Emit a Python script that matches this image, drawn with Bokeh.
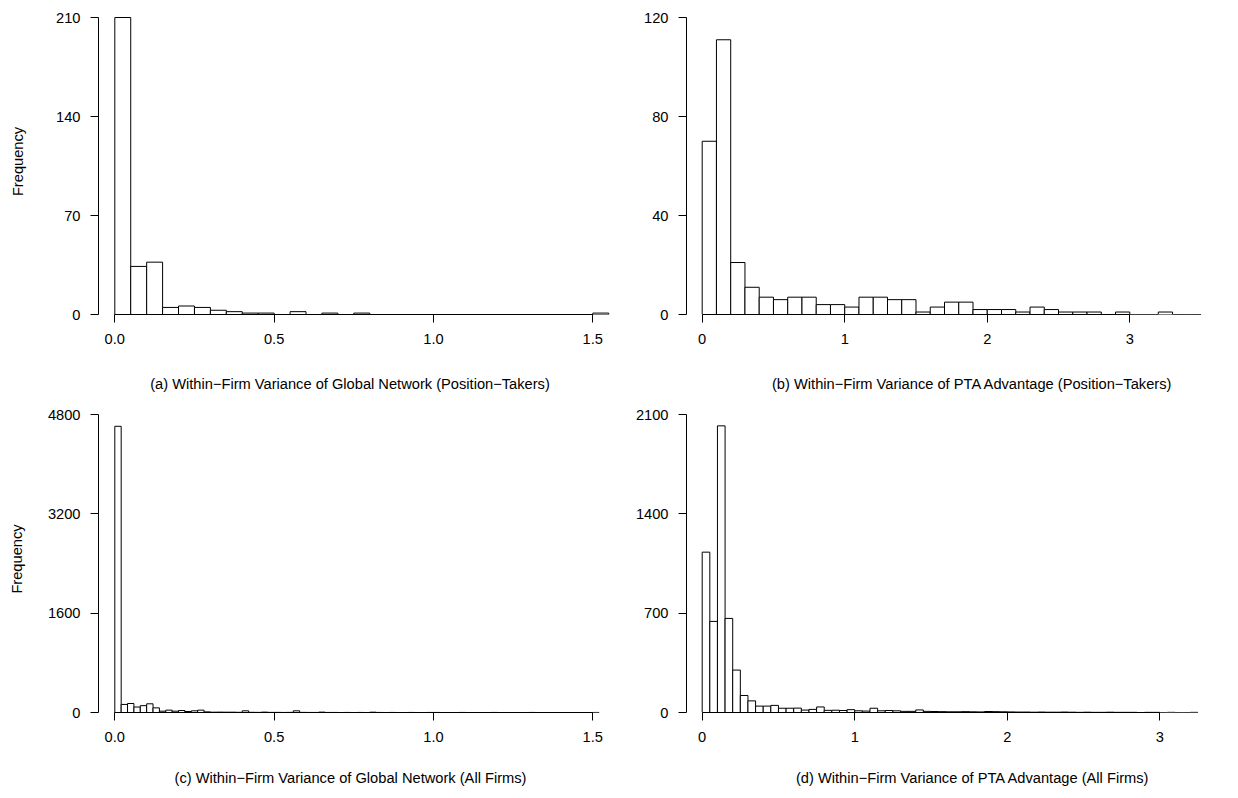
import numpy as np
from bokeh.plotting import figure
from bokeh.models import FixedTicker, PrintfTickFormatter, Label, Range1d, ColumnDataSource
from bokeh.layouts import column, row
from bokeh.embed import file_html
from bokeh.resources import INLINE

FONT = "Liberation Sans"
FS = "14.67px"

# ---------------- data ----------------
# (a) Within-Firm Variance of Global Network (Position-Takers)
a_bin_width = 0.05
a_counts = [210, 34, 37, 5, 6, 5, 3, 2, 1, 1,
            0, 2, 0, 1, 0, 1, 0, 0, 0, 0,
            0, 0, 0, 0, 0, 0, 0, 0, 0, 0,
            1]
a_xticks = [0.0, 0.5, 1.0, 1.5]
a_yticks = [0, 70, 140, 210]
a_caption = "(a) Within\u2212Firm Variance of Global Network (Position\u2212Takers)"

# (b) Within-Firm Variance of PTA Advantage (Position-Takers)
b_bin_width = 0.1
b_counts = [70, 111, 21, 11, 7, 6, 7, 7, 4, 4,
            3, 7, 7, 6, 6, 1, 3, 5, 5, 2,
            2, 2, 1, 3, 2, 1, 1, 1, 0, 1,
            0, 0, 1, 0, 0]
b_xticks = [0, 1, 2, 3]
b_yticks = [0, 40, 80, 120]
b_caption = "(b) Within\u2212Firm Variance of PTA Advantage (Position\u2212Takers)"

# (c) Within-Firm Variance of Global Network (All Firms)
c_bin_width = 0.02
c_counts = [4610, 130, 145, 88, 110, 140, 75, 21, 38, 21,
            32, 16, 27, 38, 10, 5, 6, 5, 5, 3,
            27, 3, 2, 6, 2, 2, 1, 2, 27, 2,
            1, 1, 6, 1, 1, 0, 1, 0, 1, 0,
            5, 1, 0, 1, 0, 0, 1, 0, 0, 1,
            1, 0, 0, 0, 1, 0, 0, 0, 0, 1,
            0, 0, 0, 0, 0, 1, 0, 0, 0, 0,
            0, 0, 0, 0, 0, 1]
c_xticks = [0.0, 0.5, 1.0, 1.5]
c_yticks = [0, 1600, 3200, 4800]
c_caption = "(c) Within\u2212Firm Variance of Global Network (All Firms)"

# (d) Within-Firm Variance of PTA Advantage (All Firms)
d_bin_width = 0.05
d_counts = [1130, 642, 2020, 663, 299, 120, 82, 45, 45, 50,
            30, 30, 31, 17, 22, 39, 15, 16, 14, 20,
            12, 10, 30, 12, 14, 12, 8, 8, 18, 8,
            7, 6, 5, 5, 6, 5, 4, 7, 6, 5,
            4, 3, 3, 2, 3, 2, 2, 3, 2, 1,
            2, 1, 1, 2, 1, 1, 1, 0, 1, 1,
            0, 1, 0, 0, 1]
d_xticks = [0, 1, 2, 3]
d_yticks = [0, 700, 1400, 2100]
d_caption = "(d) Within\u2212Firm Variance of PTA Advantage (All Firms)"

W = 619


def panel(counts, bw, xticks, yticks, xfmt, fig_h, y_top_px, y_zero_px,
          axis_px, zero_px, ppu, ylabel=None, ylabel_standoff=0):
    right_border = 4
    frame_w = W - axis_px - right_border
    x0 = -(zero_px - axis_px) / ppu
    x1 = x0 + frame_w / ppu
    top_border = y_top_px - 9
    frame_h = y_zero_px - top_border
    upp = yticks[-1] / (y_zero_px - y_top_px)
    y1 = frame_h * upp

    p = figure(width=W, height=fig_h, x_range=Range1d(x0, x1), y_range=Range1d(0, y1),
               output_backend="svg", toolbar_location=None,
               min_border_left=axis_px, min_border_right=right_border,
               min_border_top=top_border, min_border_bottom=fig_h - y_zero_px)
    p.outline_line_color = None
    p.grid.visible = False
    p.background_fill_color = "white"
    p.border_fill_color = "white"

    lefts = np.arange(len(counts)) * bw
    src = ColumnDataSource(dict(left=lefts, right=lefts + bw, top=counts))
    p.quad(left="left", right="right", bottom=0, top="top", source=src,
           fill_color="white", line_color="black", line_width=1)

    for ax, ticks in ((p.xaxis[0], xticks), (p.yaxis[0], yticks)):
        ax.ticker = FixedTicker(ticks=ticks)
        ax.bounds = (ticks[0], ticks[-1])
        ax.axis_line_color = "black"
        ax.axis_line_width = 1
        ax.major_tick_line_color = "black"
        ax.major_tick_out = 8
        ax.major_tick_in = 0
        ax.minor_tick_line_color = None
        ax.major_label_text_font = FONT
        ax.major_label_text_font_size = FS
        ax.major_label_text_color = "black"
    p.xaxis[0].formatter = PrintfTickFormatter(format=xfmt)
    p.yaxis[0].formatter = PrintfTickFormatter(format="%d")
    p.xaxis[0].major_label_standoff = 11
    p.yaxis[0].major_label_standoff = 10

    if ylabel:
        p.yaxis[0].axis_label = ylabel
        p.yaxis[0].axis_label_text_font = FONT
        p.yaxis[0].axis_label_text_font_size = FS
        p.yaxis[0].axis_label_text_font_style = "normal"
        p.yaxis[0].axis_label_text_color = "black"
        p.yaxis[0].axis_label_standoff = ylabel_standoff
    return p


def caption_fig(text, h, cx, cy_from_top):
    c = figure(width=W, height=h, x_range=Range1d(0, W), y_range=Range1d(0, h),
               output_backend="svg", toolbar_location=None,
               x_axis_location=None, y_axis_location=None,
               min_border_left=0, min_border_right=0, min_border_top=0, min_border_bottom=0)
    c.outline_line_color = None
    c.grid.visible = False
    c.background_fill_color = "white"
    c.border_fill_color = "white"
    c.add_layout(Label(x=cx, y=h - cy_from_top, text=text, text_align="center",
                       text_baseline="middle", text_font=FONT, text_font_size=FS,
                       text_color="black"))
    return c


TOP_H = 362
pa = panel(a_counts, a_bin_width, a_xticks, a_yticks, "%.1f", TOP_H, 17, 314,
           98, 114.3, 318.67, ylabel="Frequency", ylabel_standoff=27)
pb = panel(b_counts, b_bin_width, b_xticks, b_yticks, "%d", TOP_H, 17, 314,
           67, 82.7, 142.53)
pc = panel(c_counts, c_bin_width, c_xticks, c_yticks, "%.1f", TOP_H, 16, 314,
           98, 114.3, 318.67, ylabel="Frequency", ylabel_standoff=20)
pd = panel(d_counts, d_bin_width, d_xticks, d_yticks, "%d", TOP_H, 16, 314,
           67, 82.7, 152.53)

ca = caption_fig(a_caption, 36, 349.5, 21)
cb = caption_fig(b_caption, 36, 353, 21)
cc = caption_fig(c_caption, 38, 350, 17)
cd = caption_fig(d_caption, 38, 353.5, 17)

layout = column(row(pa, pb), row(ca, cb), row(pc, pd), row(cc, cd))
open("out.html", "w").write(file_html(layout, INLINE))
